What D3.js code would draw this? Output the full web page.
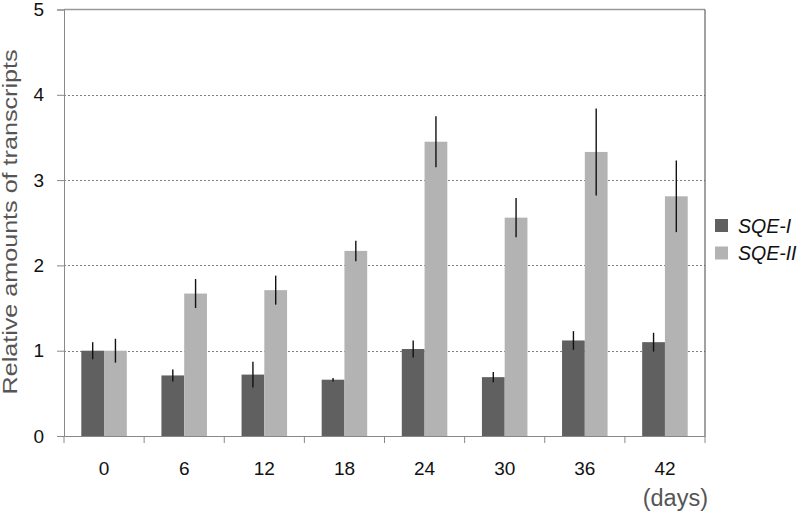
<!DOCTYPE html>
<meta charset="utf-8">
<head>
    <title>Transcripts</title>
    <script src="https://cdn.jsdelivr.net/npm/d3@7"></script>
</head>
<style>
    body { margin: 0; background: #fff; }
    text { font-family: Arial, "Liberation Sans", sans-serif; }
</style>
<svg id="chart"></svg>
<script>
    var days = ["0", "6", "12", "18", "24", "30", "36", "42"];
    var series = ["SQE-I", "SQE-II"];
    var sqe1 = [1.00, 0.71, 0.72, 0.66, 1.02, 0.69, 1.12, 1.10];
    var sqe1Err = [0.10, 0.07, 0.15, 0.02, 0.10, 0.06, 0.11, 0.11];
    var sqe2 = [1.00, 1.67, 1.71, 2.17, 3.45, 2.56, 3.33, 2.81];
    var sqe2Err = [0.14, 0.17, 0.17, 0.12, 0.30, 0.23, 0.51, 0.42];
    var yTicks = [0, 1, 2, 3, 4, 5];
    var colors = ["#606060", "#b3b3b3"];

    var W = 800, H = 517;
    var pLeft = 64, pRight = 705, pTop = 9.5, pBottom = 436;

    var svg = d3.select('#chart').attr('width', W).attr('height', H);

    var x = d3.scaleBand().domain(days).range([pLeft, pRight]).paddingInner(0).paddingOuter(0);
    var y = d3.scaleLinear().domain([0, 5]).range([pBottom, pTop]);
    var inner = d3.scaleBand().domain(series).range([0, x.bandwidth()]).paddingOuter(0.76).paddingInner(0);

    // grid lines
    svg.append('g').selectAll('line').data(yTicks.filter(function (d) { return d > 0 && d < 5; }))
        .enter().append('line')
        .attr('x1', pLeft).attr('x2', pRight)
        .attr('y1', function (d) { return Math.round(y(d)) + 0.5; })
        .attr('y2', function (d) { return Math.round(y(d)) + 0.5; })
        .attr('stroke', '#808080').attr('stroke-dasharray', '2,2').attr('stroke-width', 1);

    // frame: top and right
    svg.append('line').attr('x1', pLeft).attr('x2', pRight).attr('y1', pTop).attr('y2', pTop)
        .attr('stroke', '#999').attr('stroke-width', 1.5);
    svg.append('line').attr('x1', pRight).attr('x2', pRight).attr('y1', pTop).attr('y2', pBottom)
        .attr('stroke', '#444').attr('stroke-width', 1);

    // bars
    var rows = days.map(function (d, i) {
        return [
            {day: d, s: series[0], v: sqe1[i], e: sqe1Err[i]},
            {day: d, s: series[1], v: sqe2[i], e: sqe2Err[i]}
        ];
    });
    var groups = svg.append('g').selectAll('g').data(rows).enter().append('g')
        .attr('transform', function (d) { return 'translate(' + x(d[0].day) + ',0)'; });
    groups.selectAll('rect').data(function (d) { return d; }).enter().append('rect')
        .attr('x', function (d) { return inner(d.s); })
        .attr('width', inner.bandwidth())
        .attr('y', function (d) { return y(d.v); })
        .attr('height', function (d) { return y(0) - y(d.v); })
        .attr('fill', function (d, i) { return colors[i]; });
    groups.selectAll('line').data(function (d) { return d; }).enter().append('line')
        .attr('x1', function (d) { return inner(d.s) + inner.bandwidth() / 2; })
        .attr('x2', function (d) { return inner(d.s) + inner.bandwidth() / 2; })
        .attr('y1', function (d) { return y(d.v + d.e); })
        .attr('y2', function (d) { return y(d.v - d.e); })
        .attr('stroke', '#111').attr('stroke-width', 1.4);

    // y axis
    var yAxis = svg.append('g').attr('transform', 'translate(' + pLeft + ',0)')
        .call(d3.axisLeft(y).tickValues(yTicks).tickSize(7).tickPadding(13).tickFormat(d3.format('d')));
    yAxis.select('.domain').attr('stroke', '#888');
    yAxis.selectAll('.tick line').attr('stroke', '#888');
    yAxis.selectAll('text').attr('font-size', 19).attr('fill', '#111')
        .style('font-family', 'Arial, "Liberation Sans", sans-serif');

    // x axis
    var xAxis = svg.append('g').attr('transform', 'translate(0,' + pBottom + ')')
        .call(d3.axisBottom(x).tickSize(0).tickPadding(25.5));
    xAxis.select('.domain').attr('stroke', '#888');
    xAxis.selectAll('text').attr('font-size', 19).attr('fill', '#111')
        .style('font-family', 'Arial, "Liberation Sans", sans-serif');
    svg.append('g').selectAll('line').data(days.map(function (d) { return x(d); }).concat([pRight]))
        .enter().append('line')
        .attr('x1', function (d) { return d; }).attr('x2', function (d) { return d; })
        .attr('y1', pBottom).attr('y2', pBottom + 7)
        .attr('stroke', '#888');

    // axis titles
    svg.append('text')
        .attr('transform', 'translate(17,222) rotate(-90)')
        .attr('text-anchor', 'middle')
        .attr('font-size', 20).attr('fill', '#555')
        .attr('textLength', 345).attr('lengthAdjust', 'spacingAndGlyphs')
        .text('Relative amounts of transcripts');
    svg.append('text')
        .attr('x', 708).attr('y', 506)
        .attr('text-anchor', 'end')
        .attr('font-size', 23.5).attr('fill', '#555')
        .text('(days)');

    // legend
    var legend = svg.append('g').selectAll('g').data(series).enter().append('g')
        .attr('transform', function (d, i) { return 'translate(715,' + (219 + i * 27.5) + ')'; });
    legend.append('rect').attr('width', 13).attr('height', 13)
        .attr('fill', function (d, i) { return colors[i]; });
    legend.append('text').attr('x', 23).attr('y', 13.5)
        .attr('font-size', 19.5).attr('font-style', 'italic').attr('fill', '#111')
        .text(function (d) { return d; });
</script>
